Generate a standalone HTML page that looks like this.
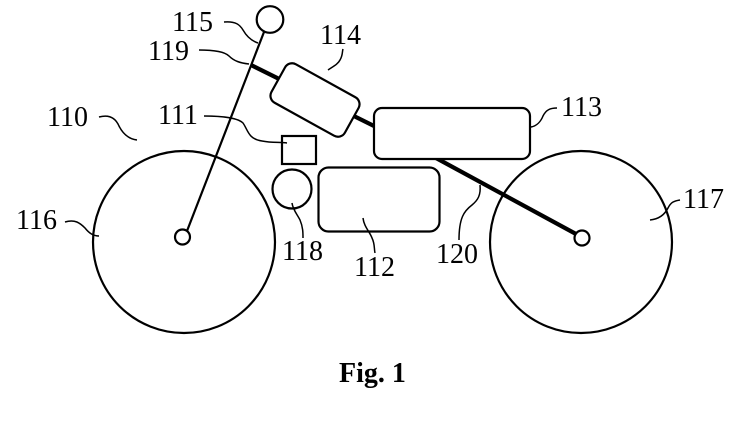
<!DOCTYPE html>
<html><head><meta charset="utf-8"><style>
html,body{margin:0;padding:0;background:#fff;}
svg{display:block;}
text{font-family:"Liberation Serif",serif;font-size:28px;fill:#000;}
</style></head><body>
<svg width="740" height="444" viewBox="0 0 740 444" xmlns="http://www.w3.org/2000/svg">
<g fill="none" stroke="#000" stroke-width="2.2">
  <!-- wheels -->
  <circle cx="184" cy="242" r="91"/>
  <circle cx="581" cy="242" r="91"/>
  <!-- fork -->
  <line x1="264" y1="32" x2="187" y2="231"/>
  <circle cx="270" cy="19.5" r="13.3" fill="#fff"/>
  <circle cx="182.5" cy="237" r="7.5" fill="#fff"/>
  <!-- frame thick -->
  <line x1="251" y1="65" x2="374" y2="126" stroke-width="4.2"/>
  <line x1="436" y1="158" x2="576" y2="234" stroke-width="4.2"/>
  <circle cx="582" cy="238" r="7.5" fill="#fff"/>
  <!-- box 114 -->
  <rect x="273" y="78" width="84" height="44" rx="8" fill="#fff" transform="rotate(29 315 100)"/>
  <!-- box 113 -->
  <rect x="374" y="108" width="156" height="51" rx="8" fill="#fff"/>
  <!-- box 112 -->
  <rect x="318.5" y="167.5" width="121" height="64" rx="10" fill="#fff"/>
  <!-- box 111 -->
  <rect x="282" y="136" width="34" height="28"/>
  <!-- circle 118 -->
  <circle cx="292" cy="189" r="19.5"/>
</g>
<g fill="none" stroke="#000" stroke-width="1.5">
  <!-- 115 -->
  <path d="M224,22 C236,21 240,25 243,30 C247,37 252,41 258,43"/>
  <!-- 119 -->
  <path d="M199,50 C215,50 225,52 229,56 C234,61 240,63 249,64"/>
  <!-- 114 -->
  <path d="M328,70 C334,66 338,64 340,60 C343,55 342,52 343,49"/>
  <!-- 110 -->
  <path d="M99,117 C110,114 116,119 119,126 C123,134 129,139 137,140"/>
  <!-- 111 -->
  <path d="M204,116 C222,116 238,118 243,123 C248,130 248,139 262,141 C272,143 280,142 287,143"/>
  <!-- 113 -->
  <path d="M531,127 C537,126 541,121 543,116 C546,110 550,108 557,108"/>
  <!-- 117 -->
  <path d="M650,220 C660,219 665,214 668,208 C671,202 674,201 680,200"/>
  <!-- 112 -->
  <path d="M363,218 C364,227 370,232 372,238 C375,244 374,249 375,253"/>
  <!-- 120 -->
  <path d="M480,185 C481,195 478,200 472,205 C464,211 459,218 459,240"/>
  <!-- 118 -->
  <path d="M292,203 C293,210 297,214 300,220 C303,227 303,233 303,238"/>
  <!-- 116 -->
  <path d="M65,222 C75,219 80,223 85,228 C89,233 93,236 99,236"/>
</g>
<text x="172" y="31">115</text>
<text x="148" y="60">119</text>
<text x="320" y="44">114</text>
<text x="47" y="126">110</text>
<text x="158" y="124">111</text>
<text x="561" y="116">113</text>
<text x="683" y="208">117</text>
<text x="354" y="276">112</text>
<text x="436" y="263">120</text>
<text x="282" y="260">118</text>
<text x="16" y="229">116</text>
<text x="339" y="382" style="font-weight:bold">Fig. 1</text>
</svg>
</body></html>
